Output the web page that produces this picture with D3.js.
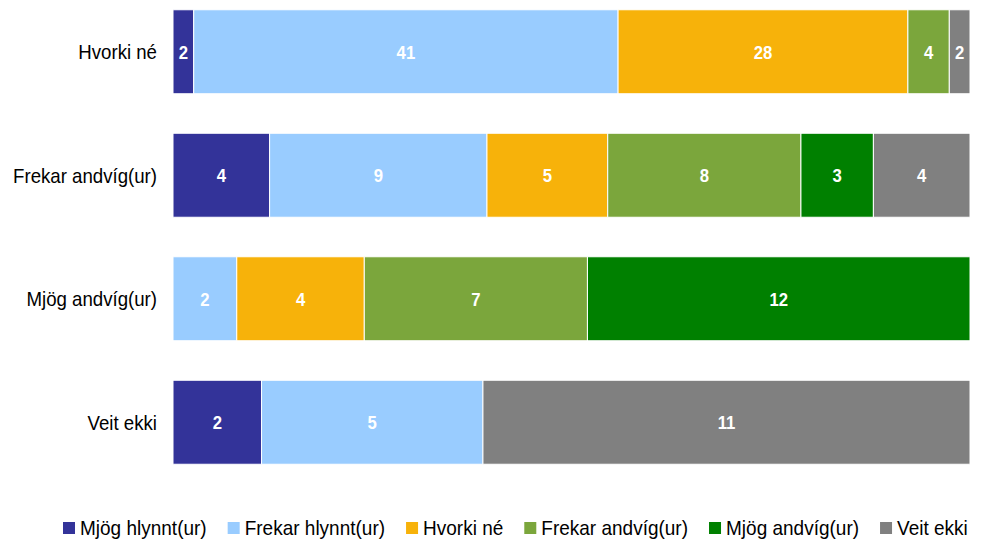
<!DOCTYPE html>
<html>
<head>
<meta charset="utf-8">
<script src="https://cdn.jsdelivr.net/npm/d3@7"></script>
<style>
    body { margin: 0; background: #fff; }
    text { font-family: "Liberation Sans Narrow", "Arial Narrow", "Liberation Sans", sans-serif; }
</style>
</head>
<body>
<div id="chart"></div>
<script>
// Rows (top to bottom) and answer groups.
var categories = ["Hvorki né", "Frekar andvíg(ur)", "Mjög andvíg(ur)", "Veit ekki"];
var seriesNames = ["Mjög hlynnt(ur)", "Frekar hlynnt(ur)", "Hvorki né", "Frekar andvíg(ur)", "Mjög andvíg(ur)", "Veit ekki"];
var seriesColors = ["#333399", "#99ccff", "#f7b20a", "#7ba63c", "#008000", "#808080"];

// Counts per series, one value per row.
var mjogHlynnt = [2, 4, 0, 2];
var frekarHlynnt = [41, 9, 2, 5];
var hvorkiNe = [28, 5, 4, 0];
var frekarAndvig = [4, 8, 7, 0];
var mjogAndvig = [0, 3, 12, 0];
var veitEkki = [2, 4, 0, 11];

var seriesValues = [mjogHlynnt, frekarHlynnt, hvorkiNe, frekarAndvig, mjogAndvig, veitEkki];

var width = 988, height = 542;
var margin = { left: 173, right: 18 };
var narrow = 0.88;       // squeeze factor, the original font is condensed
var legendNarrow = 0.95;
var axisNarrow = 0.91;

var svg = d3.select("#chart")
    .append("svg")
    .attr("width", width)
    .attr("height", height);

// Build a table the stack can use.
var table = categories.map(function(cat, i) {
    var row = { category: cat };
    seriesNames.forEach(function(name, s) {
        row[name] = seriesValues[s][i];
    });
    return row;
});

var stack = d3.stack()
    .keys(seriesNames)
    .offset(d3.stackOffsetExpand);
var stacked = stack(table);

var xScale = d3.scaleLinear()
    .domain([0, 1])
    .range([margin.left, width - margin.right]);

var yScale = d3.scaleBand()
    .domain(categories)
    .range([-10, 484])
    .paddingInner(0.32)
    .paddingOuter(0.16);

var colorScale = d3.scaleOrdinal()
    .domain(seriesNames)
    .range(seriesColors);

var layers = svg.selectAll(".layer")
    .data(stacked)
    .enter()
    .append("g")
    .attr("class", "layer")
    .attr("fill", function(d) { return colorScale(d.key); });

layers.selectAll("rect")
    .data(function(d) { return d.filter(function(p) { return p[1] > p[0]; }); })
    .enter()
    .append("rect")
    .attr("x", function(d) { return xScale(d[0]); })
    .attr("y", function(d) { return yScale(d.data.category); })
    .attr("width", function(d) { return xScale(d[1]) - xScale(d[0]); })
    .attr("height", yScale.bandwidth())
    .attr("stroke", "#fff")
    .attr("stroke-width", 1);

// Value labels
layers.each(function(layer) {
    d3.select(this).selectAll("text")
        .data(layer.filter(function(p) { return p[1] > p[0]; }))
        .enter()
        .append("text")
        .attr("transform", function(d) {
            var cx = (xScale(d[0]) + xScale(d[1])) / 2;
            var cy = yScale(d.data.category) + yScale.bandwidth() / 2;
            return "translate(" + cx + "," + cy + ")scale(" + narrow + ",1)";
        })
        .attr("dy", "0.36em")
        .attr("text-anchor", "middle")
        .attr("fill", "#fff")
        .attr("font-weight", "bold")
        .attr("font-size", 19)
        .text(function(d) { return d.data[layer.key]; });
});

// Category axis labels
svg.append("g")
    .selectAll("text")
    .data(categories)
    .enter()
    .append("text")
    .attr("transform", function(d) {
        return "translate(157," + (yScale(d) + yScale.bandwidth() / 2) + ")scale(" + axisNarrow + ",1)";
    })
    .attr("dy", "0.36em")
    .attr("text-anchor", "end")
    .attr("font-size", 20.5)
    .attr("fill", "#000")
    .text(function(d) { return d; });

// Legend
var legend = svg.append("g")
    .attr("transform", "translate(0,528)");
var items = legend.selectAll(".item")
    .data(seriesNames)
    .enter()
    .append("g")
    .attr("class", "item");
items.append("rect")
    .attr("x", 0)
    .attr("y", -6)
    .attr("width", 12)
    .attr("height", 12)
    .attr("fill", function(d) { return colorScale(d); });
items.append("text")
    .attr("transform", "translate(17,0)scale(" + legendNarrow + ",1)")
    .attr("dy", "0.36em")
    .attr("font-size", 20)
    .attr("fill", "#000")
    .text(function(d) { return d; });

var gap = 21;
var cursor = 63;
var offsets = [];
items.each(function() {
    offsets.push(cursor);
    var t = d3.select(this).select("text").node();
    cursor += 17 + t.getComputedTextLength() * legendNarrow + gap;
});
items.attr("transform", function(d, i) { return "translate(" + offsets[i] + ",0)"; });
</script>
</body>
</html>
